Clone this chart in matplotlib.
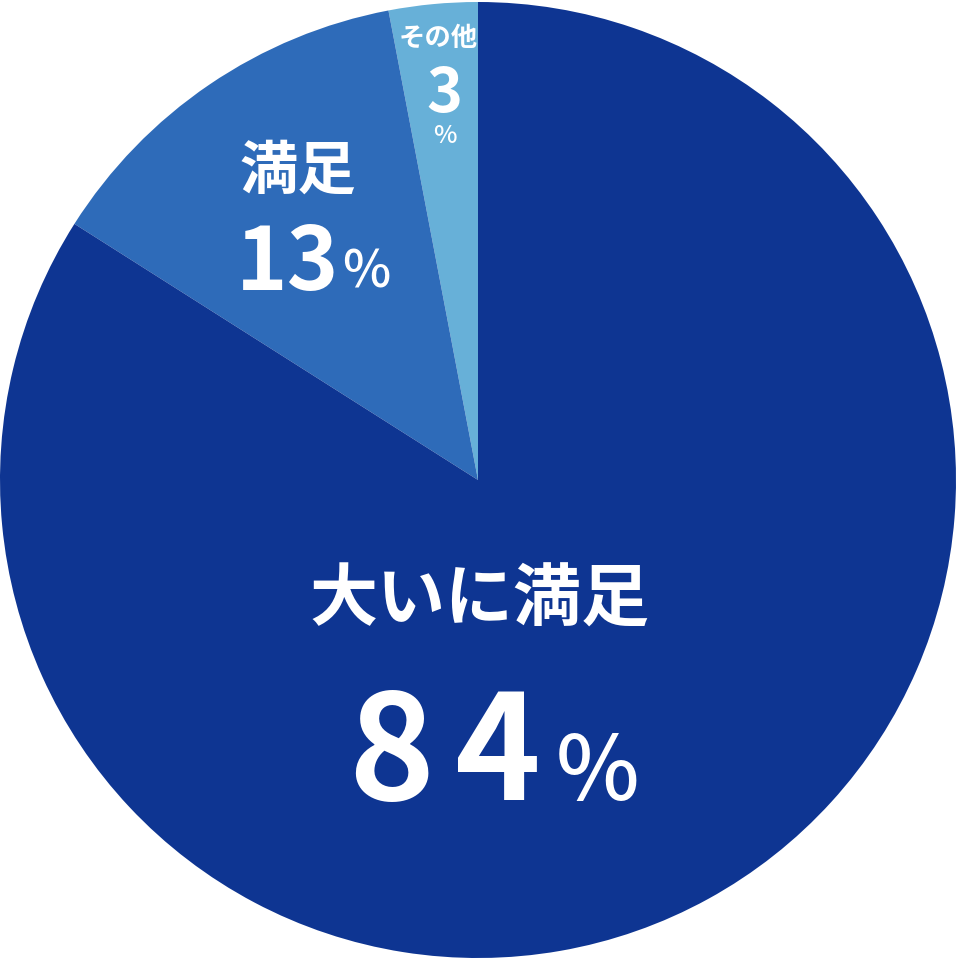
import matplotlib
matplotlib.use('Agg')
import matplotlib.pyplot as plt

# data
labels = ['その他', '満足', '大いに満足']
values = [3, 13, 84]
colors = ['#67b0d8', '#2e6bb9', '#0e3592']

W, H = 958, 960
fig = plt.figure(figsize=(W / 100, H / 100), dpi=100)
ax = fig.add_axes([0, 0, 1, 1])

cx, cy, r = 478, H - 480, 478
ax.pie(values, colors=colors, startangle=90, counterclock=True,
       center=(cx, cy), radius=r, wedgeprops=dict(linewidth=0))
ax.set_xlim(0, W)
ax.set_ylim(0, H)
ax.set_aspect('equal')
ax.axis('off')

jp = ['Noto Sans CJK JP', 'DejaVu Sans']


def txt(x, y, s, size, weight='bold', ha='center', va='center'):
    # y given in pixel coords from the top
    ax.text(x, H - y, s, fontsize=size, color='white', ha=ha, va=va,
            fontfamily=jp, fontweight=weight)


# 大いに満足 84%
txt(479, 601, labels[2], 49)
big = str(values[2])
txt(391, 800, big[0], 105, va='baseline')
txt(498, 800, big[1], 105, va='baseline')
txt(598, 800, '%', 64, weight='medium', va='baseline')

# 満足 13%
txt(298, 172, labels[1], 42)
txt(288, 290, str(values[1]), 63, va='baseline')
txt(366, 288, '%', 37, weight='medium', va='baseline')

# その他 3%
txt(438, 38, labels[0], 19)
txt(444, 112, str(values[0]), 44, va='baseline')
txt(445, 143, '%', 18, weight='medium', va='baseline')

fig.savefig('out.png', dpi=100)
